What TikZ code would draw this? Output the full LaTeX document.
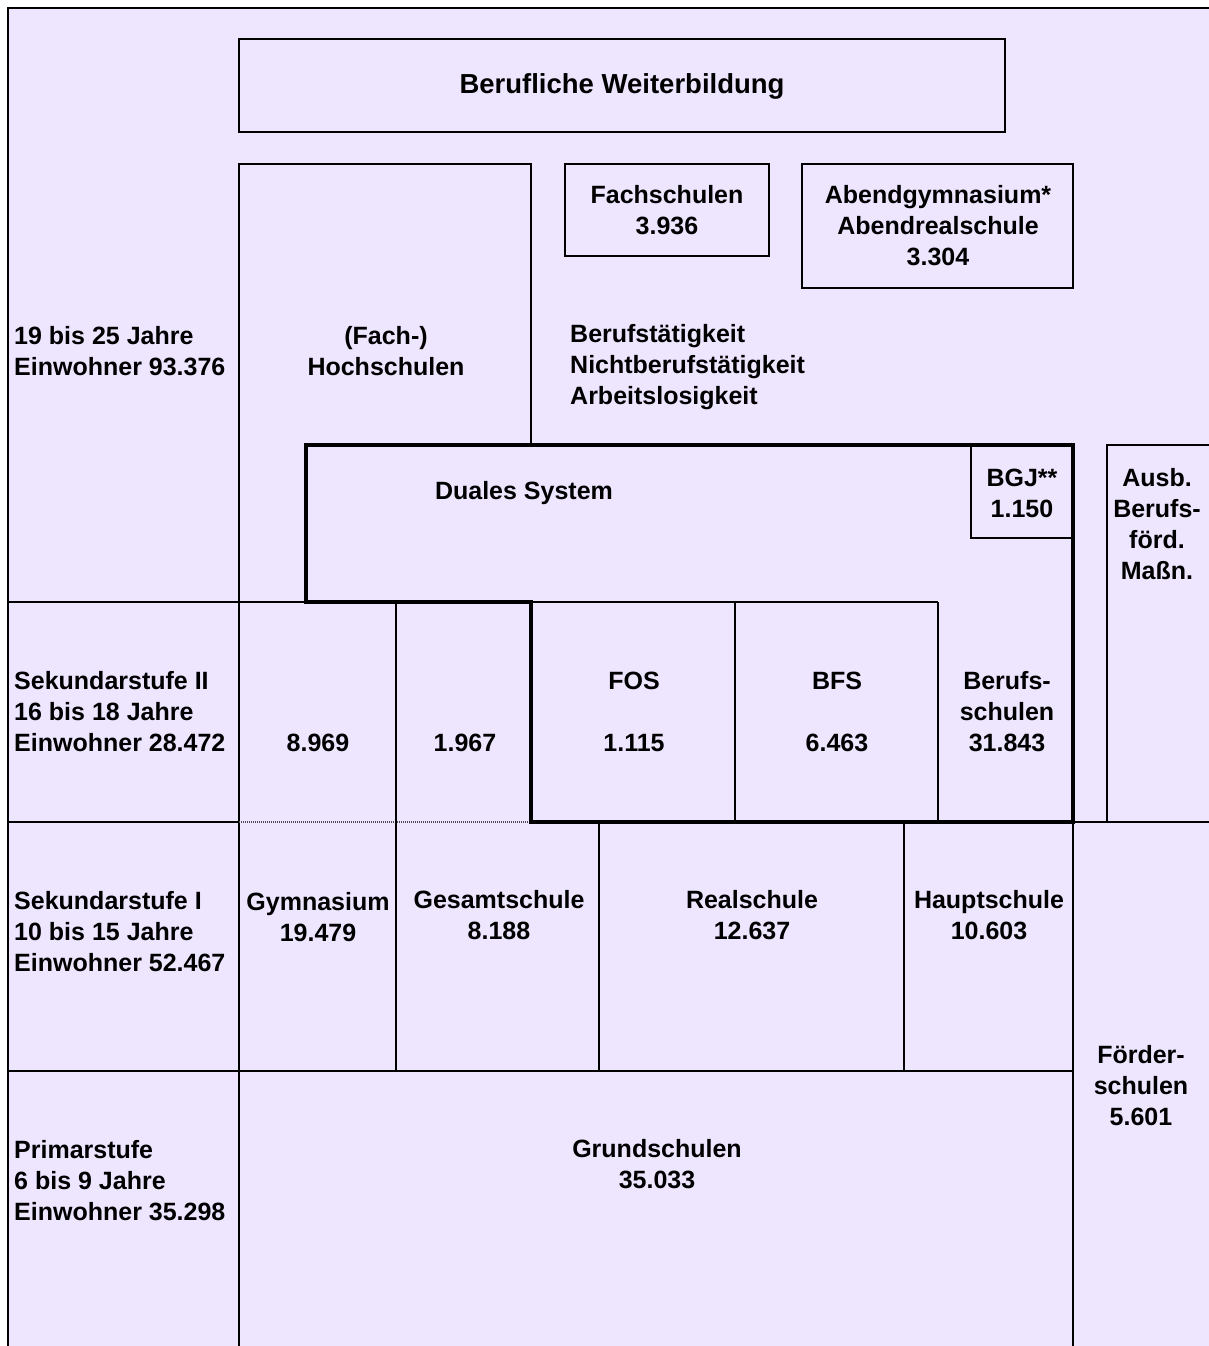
\documentclass[tikz,border=0pt]{standalone}
\usepackage{fontspec}
\setmainfont{Liberation Sans}
\definecolor{lavender}{RGB}{238,229,255}

\begin{document}
\begin{tikzpicture}[x=1pt,y=-1pt,
    thinline/.style={line width=2.8pt},
    heavyline/.style={line width=4.8pt},
    dotline/.style={line width=2.4pt,dash pattern=on 1pt off 1pt,black!70},
    txt/.style={inner sep=0pt,align=center,font=\bfseries\fontsize{25}{31}\selectfont},
    side/.style={txt,align=left,anchor=west}]

    \useasboundingbox (0,0) rectangle (1208,1346);
    \fill[lavender] (8,8) rectangle (1220,1360);

    % the frame and the boxes
    \draw[thinline] (1220,8) -- (8,8) -- (8,1360);
    \draw[thinline] (239,39) rectangle (1005,132);
    \draw[thinline] (565,164) rectangle (769,256);
    \draw[thinline] (802,164) rectangle (1073,288);
    \draw[thinline] (239,1360) -- (239,164) -- (531,164) -- (531,445);
    \draw[thinline] (971,445) -- (971,538) -- (1073,538);
    \draw[thinline] (1107,822) -- (1107,445) -- (1220,445);

    % the rows
    \draw[thinline] (8,602) -- (306,602);
    \draw[thinline] (8,822) -- (239,822);
    \draw[dotline] (239,822) -- (531,822);
    \draw[thinline] (1073,822) -- (1220,822);
    \draw[thinline] (8,1071) -- (1073,1071);
    \draw[thinline] (531,602) -- (938,602);

    % the columns
    \draw[thinline] (396,602) -- (396,1071);
    \draw[thinline] (735,602) -- (735,822);
    \draw[thinline] (938,602) -- (938,822);
    \draw[thinline] (599,822) -- (599,1071);
    \draw[thinline] (904,822) -- (904,1071);
    \draw[thinline] (1073,822) -- (1073,1360);

    % the dual system
    \draw[heavyline] (306,602) -- (306,445) -- (1073,445) -- (1073,822)
    -- (531,822) -- (531,602) -- cycle;

    % the texts
    \node[txt,font=\bfseries\fontsize{27.5}{31}\selectfont] (weiter) at (622,86)
    {Berufliche Weiterbildung};
    \node[txt] (hochschule) at (386,351) {(Fach-)\\Hochschulen};
    \node[txt] (fachschule) at (667,210) {Fachschulen\\3.936};
    \node[txt] (abend) at (938,226) {Abendgymnasium*\\Abendrealschule\\3.304};
    \node[txt,align=left,anchor=west] (beruf) at (570,367)
    {Berufstätigkeit\\Nichtberufstätigkeit\\Arbeitslosigkeit};
    \node[txt] (dual) at (524,493) {Duales System};
    \node[txt] (bgj) at (1022,493) {BGJ**\\1.150};
    \node[txt] (ausb) at (1157,524) {Ausb.\\Berufs-\\förd.\\Maßn.};

    \node[txt] (gymoben) at (318,743) {8.969};
    \node[txt] (gesoben) at (465,743) {1.967};
    \node[txt] (fos) at (634,712) {FOS\\[31pt]1.115};
    \node[txt] (bfs) at (837,712) {BFS\\[31pt]6.463};
    \node[txt] (berufsschule) at (1007,712) {Berufs-\\schulen\\31.843};

    \node[txt] (gym) at (318,917) {Gymnasium\\19.479};
    \node[txt] (gesamt) at (499,915) {Gesamtschule\\8.188};
    \node[txt] (real) at (752,915) {Realschule\\12.637};
    \node[txt] (haupt) at (989,915) {Hauptschule\\10.603};
    \node[txt] (foerder) at (1141,1086) {Förder-\\schulen\\5.601};
    \node[txt] (grund) at (657,1164) {Grundschulen\\35.033};

    \node[side] (alter) at (14,351) {19 bis 25 Jahre\\Einwohner 93.376};
    \node[side] (sek2) at (14,712) {Sekundarstufe II\\16 bis 18 Jahre\\Einwohner 28.472};
    \node[side] (sek1) at (14,932) {Sekundarstufe I\\10 bis 15 Jahre\\Einwohner 52.467};
    \node[side] (primar) at (14,1181) {Primarstufe\\6 bis 9 Jahre\\Einwohner 35.298};
\end{tikzpicture}
\end{document}
